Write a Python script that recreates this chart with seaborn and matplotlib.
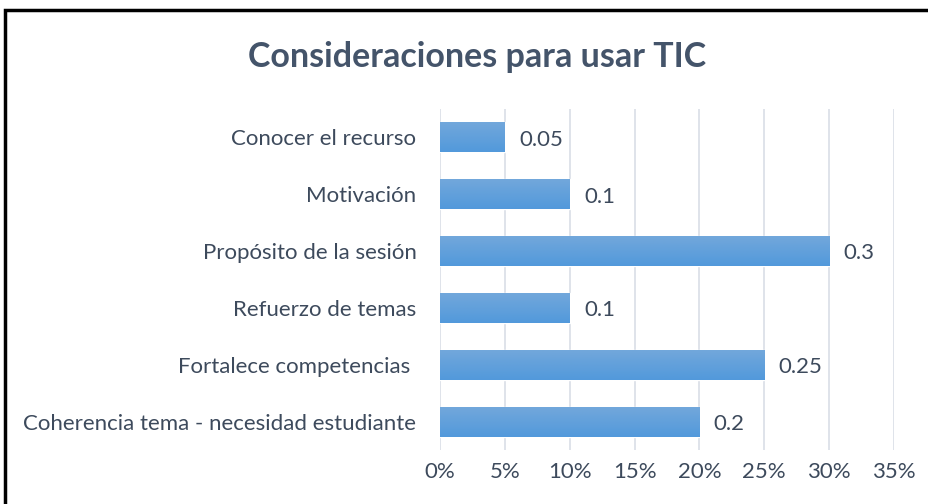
import numpy as np
import pandas as pd
import seaborn as sns
import matplotlib.pyplot as plt
from matplotlib.patches import Rectangle
from matplotlib.colors import LinearSegmentedColormap
from matplotlib.ticker import PercentFormatter

categorias = [
    "Conocer el recurso",
    "Motivación",
    "Propósito de la sesión",
    "Refuerzo de temas",
    "Fortalece competencias ",
    "Coherencia tema - necesidad estudiante",
]
valores = [0.05, 0.1, 0.3, 0.1, 0.25, 0.2]
etiquetas = ["0.05", "0.1", "0.3", "0.1", "0.25", "0.2"]
titulo = "Consideraciones para usar TIC"

df = pd.DataFrame({"cat": categorias, "val": valores})

sns.set_style("white")
plt.rcParams["font.family"] = ["Lato", "DejaVu Sans"]
txt = "#3D4A5C"

fig = plt.figure(figsize=(9.29, 5.04), dpi=100)
ax = fig.add_axes([440 / 929, 1 - 450 / 504, (894 - 440) / 929, (450 - 109) / 504])

sns.barplot(data=df, x="val", y="cat", orient="h", color="#5F9FDA",
            width=0.53, ax=ax, zorder=3)

# gradiente vertical en cada barra (claro arriba, más intenso abajo)
cmap = LinearSegmentedColormap.from_list("g", ["#73A8DB", "#5299DB"])
grad = np.linspace(0, 1, 64).reshape(-1, 1)
for p in ax.patches:
    x0, y0 = p.get_x(), p.get_y()
    w, h = p.get_width(), p.get_height()
    im = ax.imshow(grad, cmap=cmap, aspect="auto", origin="upper",
                   extent=[x0, x0 + w, y0 + h, y0], zorder=4)
    im.set_clip_path(p)

for i, (v, t) in enumerate(zip(valores, etiquetas)):
    ax.text(v + 0.011, i + 0.04, t, va="center", ha="left", fontsize=16, color=txt)

ax.set_xlim(0, 0.35)
ax.set_ylim(5.5, -0.5)
ax.set_xticks(np.arange(0, 0.351, 0.05))
ax.xaxis.set_major_formatter(PercentFormatter(1.0, decimals=0))
ax.grid(axis="x", color="#D9DEE6", linewidth=1.2, zorder=0)
ax.grid(axis="y", visible=False)
for s in ax.spines.values():
    s.set_visible(False)
ax.tick_params(axis="both", length=0, labelsize=16, labelcolor=txt)
ax.tick_params(axis="y", pad=17)
ax.tick_params(axis="x", pad=9)
ax.set_xlabel("")
ax.set_ylabel("")

fig.text(477 / 929, 1 - 57 / 504, titulo, ha="center", va="center",
         fontsize=24.5, fontweight="bold", color="#44546A")

fig.patches.append(Rectangle((5 / 929, -0.1), 1.2, 1 - 10 / 504 + 0.1,
                             transform=fig.transFigure, fill=False,
                             edgecolor="black", linewidth=2.5))

fig.savefig("out.png", dpi=100)
